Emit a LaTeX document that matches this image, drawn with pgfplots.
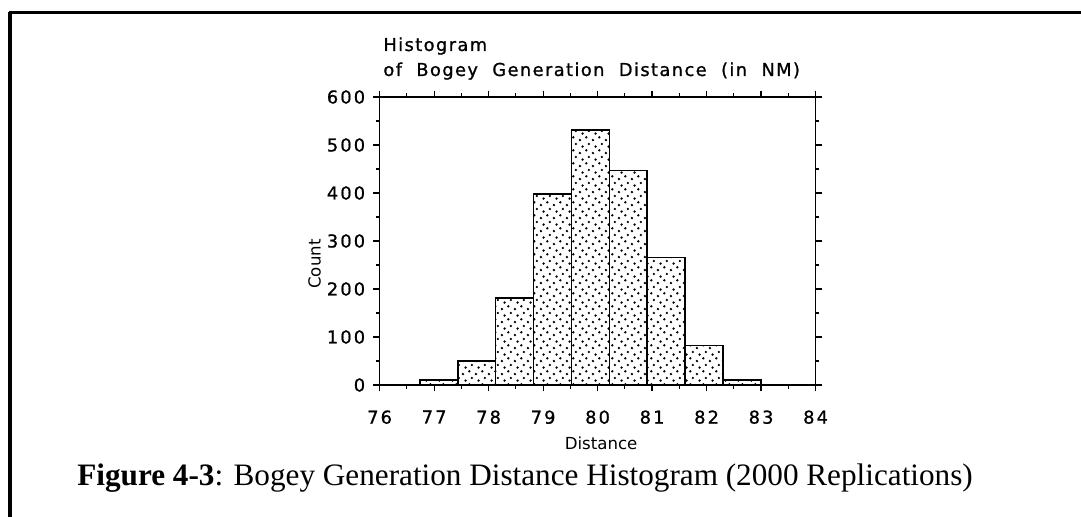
\documentclass[border=0pt]{standalone}
\usepackage{fontspec}
\setmainfont{Liberation Serif}
\newfontfamily\geneva[LetterSpace=12,FakeBold=1]{DejaVu Sans}
\newfontfamily\genevatitle[LetterSpace=8,FakeBold=1]{DejaVu Sans}
\newfontfamily\genevaplain{DejaVu Sans}
\usepackage{pgfplots}
\pgfplotsset{compat=1.18}
\usetikzlibrary{patterns.meta}

\tikzdeclarepattern{
  name=stipple, type=uncolored,
  bounding box={(0pt,0pt) and (6.4pt,6.4pt)},
  tile size={(6.4pt,6.4pt)},
  code={
    \fill (1pt,1pt) circle (0.65pt);
    \fill (4.2pt,2.4pt) circle (0.65pt);
    \fill (2.3pt,4.3pt) circle (0.65pt);
    \fill (5.5pt,5.6pt) circle (0.65pt);
  }
}
\newcommand{\gap}{\hspace{7.2pt}}

\begin{document}
\begin{tikzpicture}
\useasboundingbox (0pt,0pt) rectangle (540.5pt,-258.5pt);
% frame
\draw[line width=1.5pt] (4.5pt,-6.5pt) -- (540.5pt,-6.5pt);
\draw[line width=2pt] (5pt,-6pt) -- (5pt,-258.5pt);

\begin{axis}[
  at={(189.8pt,-192.5pt)}, anchor=south west,
  scale only axis, width=218pt, height=144pt,
  xmin=76, xmax=84, ymin=0, ymax=600,
  xtick={76,77,...,84}, ytick={0,100,...,600},
  minor x tick num=1, minor y tick num=1,
  tick align=outside, xtick pos=both, ytick pos=both,
  major tick length=3.2pt, minor tick length=1.8pt,
  axis line style={line width=0.75pt},
  every tick/.style={black, line width=0.6pt},
  /pgf/number format/assume math mode=true,
  ticklabel style={font=\geneva\fontsize{8.9}{10}\selectfont},
  xticklabel style={yshift=-6pt},
  yticklabel style={xshift=-0.5pt},
  xlabel={Distance}, ylabel={Count},
  label style={font=\genevaplain\fontsize{8.3}{10}\selectfont},
  xlabel style={at={(axis description cs:0.508,-0.2014)}, anchor=center},
  ylabel style={at={(axis description cs:-0.149,0.42)}, anchor=center},
  clip=false,
]
\addplot[ybar interval, draw=black, line width=0.8pt, pattern={stipple}, pattern color=black]
  coordinates {(76.74,11) (77.435,50) (78.13,181) (78.825,398) (79.52,531)
               (80.215,447) (80.91,266) (81.605,82) (82.30,10) (82.995,10)};
\end{axis}

% chart title (two left-aligned lines)
\node[anchor=base west, inner sep=0pt, font=\genevatitle\fontsize{8.9}{10}\selectfont] at (191.5pt,-25.5pt) {Histogram};
\node[anchor=base west, inner sep=0pt, font=\genevatitle\fontsize{8.9}{10}\selectfont] at (191.5pt,-38pt) {of\gap Bogey\gap Generation\gap Distance\gap (in\gap NM)};

% caption
\node[anchor=base west, inner sep=0pt, font=\fontsize{15.6}{18}\selectfont] at (38.5pt,-243pt)
  {\textbf{Figure 4-3}: Bogey Generation Distance Histogram (2000 Replications)};
\end{tikzpicture}
\end{document}
